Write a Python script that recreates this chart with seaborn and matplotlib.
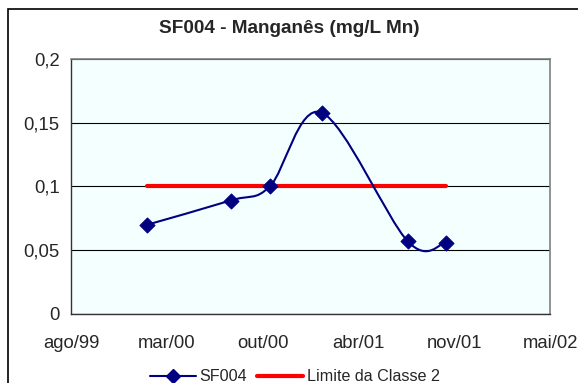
import numpy as np
import pandas as pd
import matplotlib
matplotlib.use("Agg")
import matplotlib.pyplot as plt
import matplotlib.dates as mdates
from matplotlib.path import Path
from matplotlib.patches import PathPatch, Rectangle
from matplotlib.lines import Line2D
import seaborn as sns

# dados
datas = ["2000-02-06", "2000-07-29", "2000-10-19", "2001-02-04", "2001-08-03", "2001-10-21"]
manganes = [0.070, 0.089, 0.100, 0.158, 0.057, 0.056]
limite = [0.1, 0.1, 0.1, 0.1, 0.1, 0.1]

inicio_eixo = "1999-08-31"
passo_dias = 200
rotulos_x = ["ago/99", "mar/00", "out/00", "abr/01", "nov/01", "mai/02"]
valores_y = [0, 0.05, 0.1, 0.15, 0.2]
rotulos_y = ["0", "0,05", "0,1", "0,15", "0,2"]

AZUL = "#000080"
VERMELHO = "#FF0000"

sns.set_style("white")
plt.rcParams["font.family"] = ["Liberation Sans", "DejaVu Sans"]

df = pd.DataFrame({"data": pd.to_datetime(datas), "SF004": manganes, "limite": limite})
df["x"] = mdates.date2num(df["data"])

fig = plt.figure(figsize=(5.78, 3.83), dpi=100)
ax = fig.add_axes([0.1228, 0.1802, 0.8288, 0.6658])
ax.set_facecolor("#F4FFFF")

# borda externa do grafico
fig.patches.append(Rectangle((8 / 578, -0.05), 1.1, 1 - 9 / 383 + 0.05,
                             transform=fig.transFigure, fill=False,
                             edgecolor="black", linewidth=1.2, zorder=0))

# linha limite
sns.lineplot(data=df, x="x", y="limite", ax=ax, color=VERMELHO, linewidth=3,
             zorder=3, legend=False)

# curva suavizada (bezier estilo Excel)
pts = df[["x", "SF004"]].to_numpy()
verts = [tuple(pts[0])]
codes = [Path.MOVETO]
n = len(pts)
for i in range(n - 1):
    p0 = pts[i - 1] if i > 0 else pts[i]
    p1 = pts[i]
    p2 = pts[i + 1]
    p3 = pts[i + 2] if i + 2 < n else pts[i + 1]
    c1 = p1 + (p2 - p0) / 6
    c2 = p2 - (p3 - p1) / 6
    verts += [tuple(c1), tuple(c2), tuple(p2)]
    codes += [Path.CURVE4] * 3
ax.add_patch(PathPatch(Path(verts, codes), facecolor="none", edgecolor=AZUL,
                       linewidth=1.5, zorder=4))
sns.scatterplot(data=df, x="x", y="SF004", ax=ax, marker="D", s=60,
                color=AZUL, edgecolor=AZUL, zorder=5, legend=False)

x0 = mdates.date2num(pd.Timestamp(inicio_eixo))
xticks = [x0 + passo_dias * k for k in range(len(rotulos_x))]
ax.set_xlim(xticks[0], xticks[-1])
ax.set_xticks(xticks)
ax.set_xticklabels(rotulos_x)
ax.set_ylim(valores_y[0], valores_y[-1])
ax.set_yticks(valores_y)
ax.set_yticklabels(rotulos_y)
ax.set_xlabel("")
ax.set_ylabel("")

ax.yaxis.grid(True, color="black", linewidth=0.8)
ax.set_axisbelow(True)
for lado in ["top", "right"]:
    ax.spines[lado].set_color("#808080")
    ax.spines[lado].set_linewidth(1.2)
for lado in ["left", "bottom"]:
    ax.spines[lado].set_color("#333333")
    ax.spines[lado].set_linewidth(1.0)
ax.tick_params(axis="both", direction="out", length=4, width=1, color="#333333",
               labelsize=13.3)
ax.tick_params(axis="y", pad=4)
ax.tick_params(axis="x", pad=11)

fig.text(0.5, 0.925, "SF004 - Manganês (mg/L Mn)", ha="center", va="center",
         fontsize=13.7, fontweight="bold")

handles = [Line2D([], [], color=AZUL, linewidth=1.5, marker="D", markersize=7),
           Line2D([], [], color=VERMELHO, linewidth=3)]
fig.legend(handles, ["SF004", "Limite da Classe 2"], loc="center",
           bbox_to_anchor=(0.51, 0.016), ncol=2, frameon=False, fontsize=11.6,
           handlelength=2.85, columnspacing=0.6, handletextpad=0.25,
           borderpad=0, borderaxespad=0)

fig.savefig("out.png", dpi=100)
